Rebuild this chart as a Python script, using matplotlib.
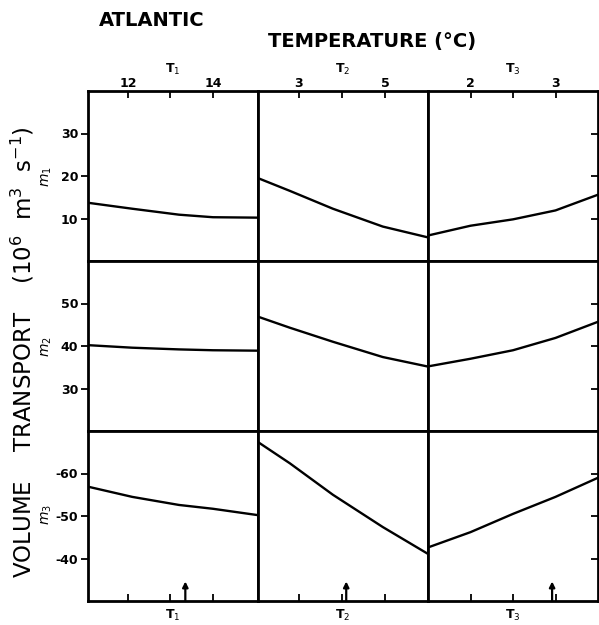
import numpy as np
import matplotlib.pyplot as plt

# temperature values (deg C) along each column
t1 = [11.06, 12.1, 13.2, 14.0, 15.06]
t2 = [2.05, 2.79, 3.79, 4.95, 5.98]
t3 = [1.5, 2.0, 2.5, 3.0, 3.5]

# volume transport (10^6 m^3/s), rows m1, m2, m3
m1_t1 = [13.7, 12.3, 10.9, 10.3, 10.2]
m1_t2 = [19.5, 16.5, 12.3, 8.1, 5.6]
m1_t3 = [6.0, 8.3, 9.8, 11.9, 15.6]

m2_t1 = [40.2, 39.6, 39.2, 39.0, 38.9]
m2_t2 = [46.9, 44.3, 41.0, 37.4, 35.2]
m2_t3 = [35.2, 37.0, 39.0, 41.9, 45.7]

m3_t1 = [-56.9, -54.5, -52.6, -51.7, -50.2]
m3_t2 = [-67.4, -62.4, -55.0, -47.4, -41.2]
m3_t3 = [-42.6, -46.2, -50.5, -54.5, -59.0]

temps = [t1, t2, t3]
rows = [[m1_t1, m1_t2, m1_t3],
        [m2_t1, m2_t2, m2_t3],
        [m3_t1, m3_t2, m3_t3]]

xlims = [(11.06, 15.06), (2.05, 6.0), (1.5, 3.5)]
xticks = [[12, 13, 14], [3, 4, 5], [2, 2.5, 3]]
xticklabels = [["12", "", "14"], ["3", "", "5"], ["2", "", "3"]]
arrow_pos = [13.35, 4.1, 2.96]
col_names = [r"T$_1$", r"T$_2$", r"T$_3$"]

ylims = [(0, 40), (20, 60), (-30, -70)]
yticks = [[10, 20, 30], [30, 40, 50], [-60, -50, -40]]
row_names = [r"$m_1$", r"$m_2$", r"$m_3$"]

W, H = 599, 625
fig = plt.figure(figsize=(W / 100, H / 100), dpi=100)

x0, y0, cw, rh = 88, 91, 170, 170

for i in range(3):
    for j in range(3):
        ax = fig.add_axes([(x0 + cw * j) / W, 1 - (y0 + rh * (i + 1)) / H, cw / W, rh / H])
        ax.plot(temps[j], rows[i][j], color="black", lw=1.7)
        ax.set_xlim(xlims[j])
        ax.set_ylim(ylims[i])
        for s in ax.spines.values():
            s.set_linewidth(2.0)

        ax.set_xticks(xticks[j])
        ax.set_xticklabels(xticklabels[j], fontsize=9, fontweight="bold")
        ax.tick_params(axis="x", direction="in", length=5, width=1.3, pad=1,
                       top=(i == 0), bottom=(i == 2),
                       labeltop=(i == 0), labelbottom=False)

        ax.set_yticks(yticks[i])
        ax.set_yticklabels([str(v) for v in yticks[i]], fontsize=9, fontweight="bold")
        ax.tick_params(axis="y", direction=("out" if j == 0 else "in"),
                       length=5, width=1.3, pad=2,
                       left=(j == 0), right=(j == 2),
                       labelleft=(j == 0), labelright=False)

        if i == 0:
            ax.xaxis.set_label_position("top")
            ax.set_xlabel(col_names[j], fontsize=9, fontweight="bold", labelpad=3)
        if i == 2:
            ax.set_xlabel(col_names[j], fontsize=9, fontweight="bold", labelpad=5)
            ax.annotate("", xy=(arrow_pos[j], 0.115), xycoords=("data", "axes fraction"),
                        xytext=(arrow_pos[j], 0.0), textcoords=("data", "axes fraction"),
                        arrowprops=dict(arrowstyle="-|>", color="black", lw=1.6,
                                        mutation_scale=8, shrinkA=0, shrinkB=0))

# row labels m1, m2, m3
for i, y in enumerate([177, 347, 515]):
    fig.text(47 / W, 1 - y / H, row_names[i], rotation=90, fontsize=10,
             ha="center", va="center")

fig.text(23 / W, 1 - 352 / H,
         r"VOLUME    TRANSPORT    (10$^6\ \ $m$^3\ \ $s$^{-1}$)",
         rotation=90, fontsize=16.5, ha="center", va="center")
fig.text(152 / W, 1 - 20 / H, "ATLANTIC", fontsize=14, fontweight="bold",
         ha="center", va="center")
fig.text(372 / W, 1 - 42 / H, "TEMPERATURE (°C)", fontsize=14, fontweight="bold",
         ha="center", va="center")

fig.savefig("out.png", dpi=100)
